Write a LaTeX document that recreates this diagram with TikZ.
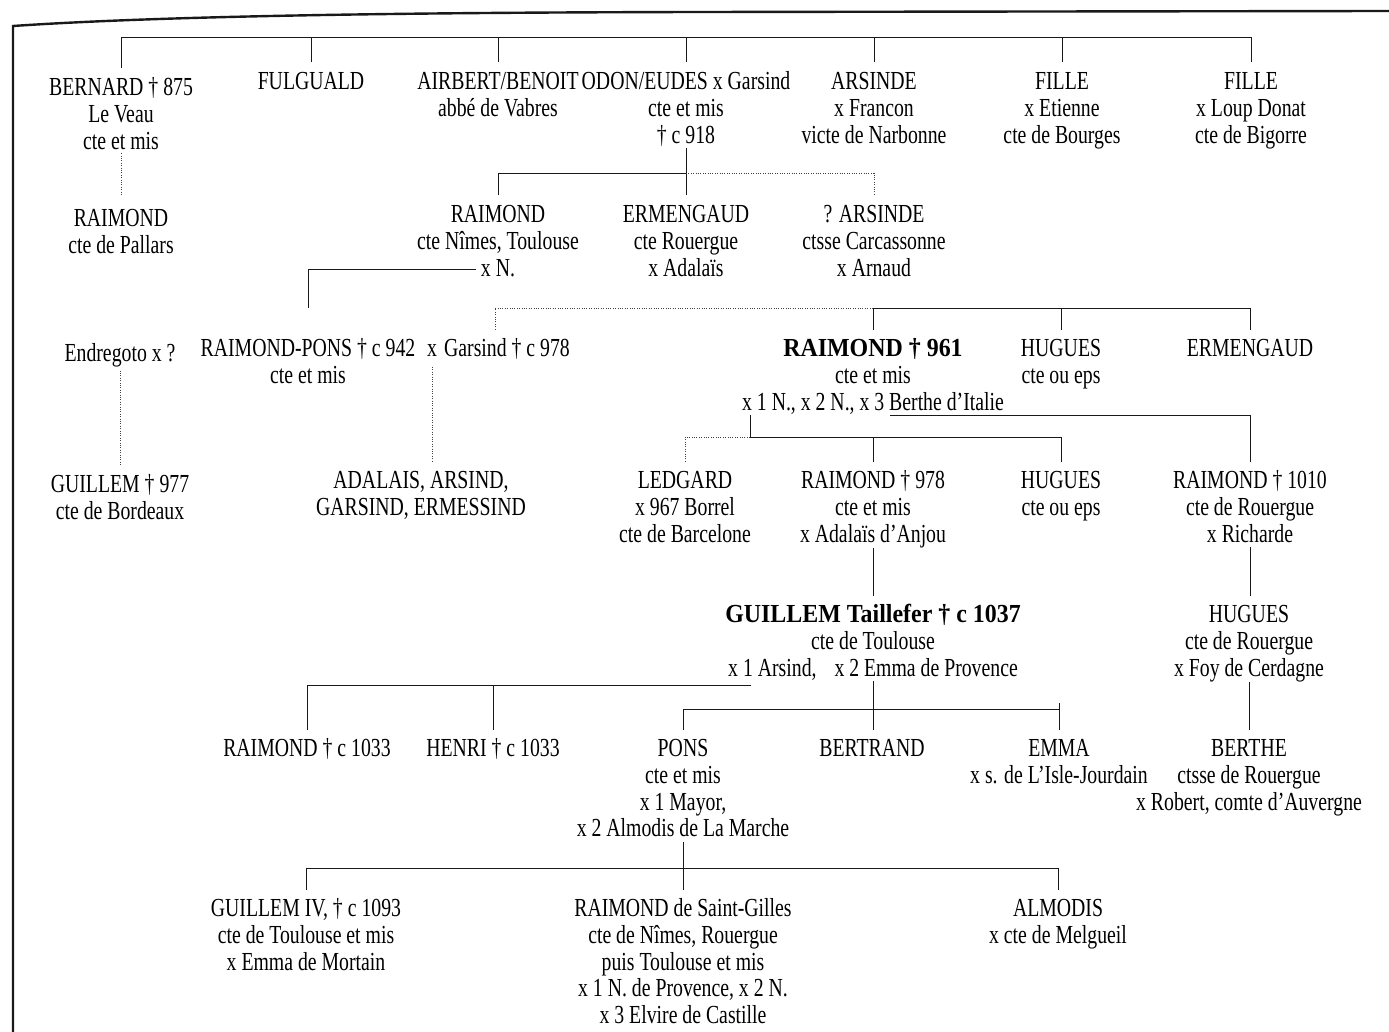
\documentclass[tikz,border=0pt]{standalone}
\usepackage{fontspec}
\setmainfont{Liberation Serif}[FakeStretch=0.76]
\newfontfamily\boldfam{Liberation Serif}[FakeStretch=0.92]
\newcommand\mytop{\rule{0pt}{27pt}}
\newcommand\mybot{\rule[-5pt]{0pt}{5pt}}
\newcommand\bld[1]{{\boldfam\bfseries #1}}
\tikzset{
  person/.style={anchor=north, align=center, inner sep=0pt, font=\fontsize{26}{26.7}\selectfont},
  link/.style={line width=0.9pt, black!90},
  dlink/.style={line width=0.9pt, dash pattern=on 0.9pt off 1.5pt, black!75},
  frame/.style={line width=2.4pt, black!90},
}
\begin{document}
\begin{tikzpicture}[x=1pt,y=-1pt]
\useasboundingbox (0,0) rectangle (1389,1032);
% frame
\draw[frame] (13,1032) -- (13,26) .. controls (160,16) and (400,12.5) .. (700,12) -- (1389,11);

% generation 1
\node[person] (bernard) at (121,68.5) {\mytop BERNARD † 875\\Le Veau\\cte et mis\mybot};
\node[person] (fulguald) at (311,62.5) {\mytop FULGUALD\mybot};
\node[person] (airbert) at (498,62.5) {\mytop AIRBERT/BENOIT\\abbé de Vabres\mybot};
\node[person] (odon) at (686,62.5) {\mytop ODON/EUDES x Garsind\\cte et mis\\† c 918\mybot};
\node[person] (arsinde) at (874,62.5) {\mytop ARSINDE\\x Francon\\victe de Narbonne\mybot};
\node[person] (fille1) at (1062,62.5) {\mytop FILLE\\x Etienne\\cte de Bourges\mybot};
\node[person] (fille2) at (1251,62.5) {\mytop FILLE\\x Loup Donat\\cte de Bigorre\mybot};

% generation 2
\node[person] (raimondP) at (121,199.5) {\mytop RAIMOND\\cte de Pallars\mybot};
\node[person] (raimondNT) at (498,195.5) {\mytop RAIMOND\\cte Nîmes, Toulouse\\x N.\mybot};
\node[person] (ermengaud1) at (686,195.5) {\mytop ERMENGAUD\\cte Rouergue\\x Adalaïs\mybot};
\node[person] (arsinde2) at (874,195.5) {\mytop ? ARSINDE\\ctsse Carcassonne\\x Arnaud\mybot};

% generation 3
\node[person] (endregoto) at (120,334.5) {\mytop Endregoto x ?\mybot};
\node[person] (rpons) at (308,329.5) {\mytop RAIMOND-PONS † c 942\\cte et mis\mybot};
\node[person] (xmark) at (432,329.5) {\mytop x\mybot};
\node[person] (garsind) at (507,329.5) {\mytop Garsind † c 978\mybot};
\node[person] (r961) at (873,329.5) {\mytop\bld{RAIMOND † 961}\\cte et mis\\x 1 N., x 2 N., x 3 Berthe d’Italie\mybot};
\node[person] (hugues1) at (1061,329.5) {\mytop HUGUES\\cte ou eps\mybot};
\node[person] (ermengaud2) at (1250,329.5) {\mytop ERMENGAUD\mybot};

% generation 4
\node[person] (guillem977) at (120,465.5) {\mytop GUILLEM † 977\\cte de Bordeaux\mybot};
\node[person] (adalais) at (421,461.5) {\mytop ADALAIS, ARSIND,\\GARSIND, ERMESSIND\mybot};
\node[person] (ledgard) at (685,461.5) {\mytop LEDGARD\\x 967 Borrel\\cte de Barcelone\mybot};
\node[person] (r978) at (873,461.5) {\mytop RAIMOND † 978\\cte et mis\\x Adalaïs d’Anjou\mybot};
\node[person] (hugues2) at (1061,461.5) {\mytop HUGUES\\cte ou eps\mybot};
\node[person] (r1010) at (1250,461.5) {\mytop RAIMOND † 1010\\cte de Rouergue\\x Richarde\mybot};

% generation 5
\node[person] (guillemT) at (873,595.5) {\mytop\bld{GUILLEM Taillefer † c 1037}\\cte de Toulouse\\x 1 Arsind,\hspace{13pt} x 2 Emma de Provence\mybot};
\node[person] (huguesR) at (1249,595.5) {\mytop HUGUES\\cte de Rouergue\\x Foy de Cerdagne\mybot};

% generation 6
\node[person] (r1033) at (307,729.5) {\mytop RAIMOND † c 1033\mybot};
\node[person] (h1033) at (493,729.5) {\mytop HENRI † c 1033\mybot};
\node[person] (pons) at (683,729.5) {\mytop PONS\\cte et mis\\x 1 Mayor,\\x 2 Almodis de La Marche\mybot};
\node[person] (bertrand) at (872,729.5) {\mytop BERTRAND\mybot};
\node[person] (emma) at (1059,729.5) {\mytop EMMA\\x s. de L’Isle-Jourdain\mybot};
\node[person] (berthe) at (1249,729.5) {\mytop BERTHE\\ctsse de Rouergue\\x Robert, comte d’Auvergne\mybot};

% generation 7
\node[person] (g4) at (306,889.5) {\mytop GUILLEM IV, † c 1093\\cte de Toulouse et mis\\x Emma de Mortain\mybot};
\node[person] (rsg) at (683,889.5) {\mytop RAIMOND de Saint-Gilles\\cte de Nîmes, Rouergue\\puis Toulouse et mis\\x 1 N. de Provence, x 2 N.\\x 3 Elvire de Castille\mybot};
\node[person] (almodis) at (1058,889.5) {\mytop ALMODIS\\x cte de Melgueil\mybot};

% ---- connectors ----
\coordinate (bus1) at (0,37);
\draw[link] (bernard.north) |- (fille2.north |- bus1) -- (fille2.north);
\foreach \n in {fulguald,airbert,odon,arsinde,fille1}
  \draw[link] (\n.north) -- (\n.north |- bus1);
\draw[dlink, shorten <=-1pt, shorten >=5pt] (bernard.south) -- (bernard.south |- raimondP.north);

\coordinate (bus2) at (0,173);
\draw[link] (odon.south) -- (ermengaud1.north);
\draw[link] (raimondNT.north) |- (odon.south |- bus2);
\draw[dlink] (odon.south |- bus2) -| (arsinde2.north);

\coordinate (xNend) at (476,269);
\draw[link, shorten <=22pt] (rpons.north) |- (xNend);

\coordinate (bus3) at (0,308);
\coordinate (gars) at ([xshift=-12pt]garsind.north);
\draw[dlink] (gars) |- (r961.north |- bus3);
\draw[link] (r961.north) |- (ermengaud2.north |- bus3) -- (ermengaud2.north);
\draw[link] (hugues1.north) -- (hugues1.north |- bus3);

\draw[dlink, shorten <=3pt] (endregoto.south) -- (guillem977.north);
\draw[dlink, shorten <=5pt] (xmark.south) -- (xmark.south |- adalais.north);

\coordinate (r961L) at ([xshift=-123pt]r961.south);
\coordinate (r961R) at ([xshift=17pt]r961.south);
\coordinate (bus4) at (0,437);
\draw[link] (r961L) |- (hugues2.north |- bus4) -- (hugues2.north);
\draw[link] (r978.north) -- (r978.north |- bus4);
\draw[dlink] (r961L |- bus4) -| (ledgard.north);
\draw[link] (r961R) -| (r1010.north);

\draw[link] (r978.south) -- (r978.south |- guillemT.north);
\draw[link] (r1010.south) -- (r1010.south |- huguesR.north);
\draw[link] (huguesR.south) -- (huguesR.south |- berthe.north);

\coordinate (gtL) at ([xshift=-122pt]guillemT.south);
\coordinate (bus5) at (0,685);
\draw[link] (gtL |- bus5) -| (r1033.north);
\draw[link] (h1033.north) -- (h1033.north |- bus5);
\coordinate (bus6) at (0,709);
\coordinate (tick) at (0,703);
\draw[link] (guillemT.south) -- (guillemT.south |- bertrand.north);
\draw[link] (pons.north) |- (emma.north |- bus6);
\draw[link] (emma.north) -- (emma.north |- tick);

\coordinate (bus7) at (0,868);
\draw[link] (pons.south) -- (rsg.north);
\draw[link] (g4.north) |- (almodis.north |- bus7) -- (almodis.north);
\end{tikzpicture}
\end{document}
